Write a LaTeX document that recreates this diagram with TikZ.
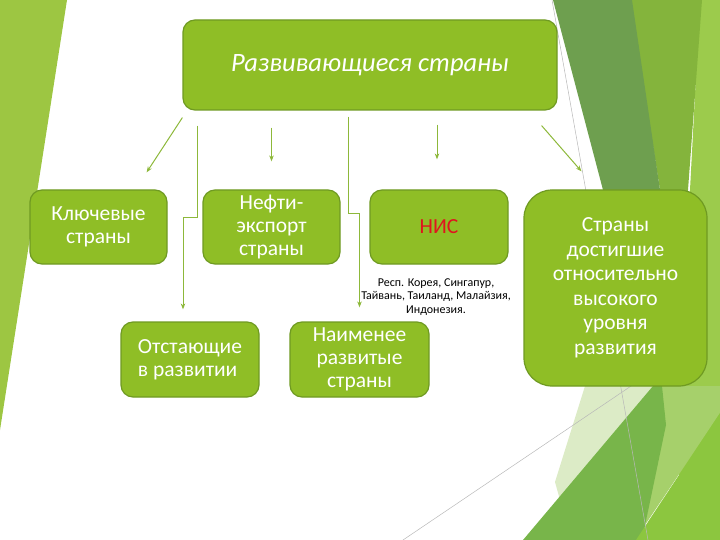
\documentclass[tikz,border=0pt]{standalone}
\usepackage{fontspec}
\setmainfont{Carlito}
\usetikzlibrary{arrows.meta,calc}
\definecolor{boxgreen}{HTML}{8FBE26}
\definecolor{boxline}{HTML}{6F9A22}
\definecolor{arrgreen}{HTML}{8DB83A}
\definecolor{nisred}{HTML}{E0141E}
\definecolor{bgleft}{HTML}{9DC642}
\definecolor{bgfar}{HTML}{9CCB4C}
\definecolor{bgmid}{HTML}{84B43C}
\definecolor{bgdark}{HTML}{6E9F4F}
\definecolor{bgpale}{HTML}{DCEBC6}
\definecolor{bgmedium}{HTML}{78B54A}
\definecolor{bglight}{HTML}{A6D06B}
\definecolor{bgbright}{HTML}{8CC63F}
\def\bgfill#1{\fill[#1]}
\def\bgline{\draw[black!28,line width=0.5pt]}
\tikzset{
  box/.style={draw=boxline,line width=1.2pt,fill=boxgreen,rounded corners=12pt,
    text=white,align=center,inner sep=0pt,font=\fontsize{21.5}{23}\selectfont},
  arr/.style={arrgreen,line width=1pt,-{Stealth[length=6pt,width=4.5pt]}}
}

\begin{document}
\begin{tikzpicture}[x=1pt,y=-1pt]
    \useasboundingbox (0,0) rectangle (720,540);
    % background
    \bgfill{bgleft}   (0,0) -- (67,0) -- (0,430) -- cycle;
    \bgfill{bgfar}    (700,0) -- (720,0) -- (720,540) -- (690,540) -- (665,390) -- (690,190) -- cycle;
    \bgfill{bgmid}    (630,0) -- (702,0) -- (688,190) -- (668,390) -- (655,390) -- (660,190) -- cycle;
    \bgfill{bgdark}   (553,0) -- (632,0) -- (660,190) -- (666,390) -- (663,425) -- (630,390) -- (603,190) -- cycle;
    \bgfill{bgpale}   (585,386) -- (655,386) -- (560,500) -- (555,482) -- cycle;
    \bgfill{bglight}  (662,386) -- (720,386) -- (720,413) -- (645,525) -- (663,425) -- cycle;
    \bgfill{bgmedium} (523,540) -- (653,386) -- (662,386) -- (666,425) -- (642,540) -- cycle;
    \bgfill{bgbright} (636,540) -- (720,413) -- (720,540) -- cycle;
    \bgline (552,0) -- (648,540);
    \bgline (403,540) -- (640,380);
    % boxes
    \node[box,minimum width=374pt,minimum height=90pt,font=\fontsize{26.5}{30}\selectfont\itshape]
        (dev) at (370,65) {Развивающиеся страны};
    \node[box,minimum width=137pt,minimum height=74pt] (key) at (98.5,227) {Ключевые\\страны};
    \node[box,minimum width=137pt,minimum height=74pt] (oil) at (271.5,227) {Нефти-\\экспорт\\страны};
    \node[box,minimum width=138pt,minimum height=74pt,text=nisred] (nic) at (439,227) {НИС};
    \node[box,minimum width=183pt,minimum height=196pt,rounded corners=28pt,font=\fontsize{21.5}{24.5}\selectfont]
        (high) at (615.5,288) {Страны\\достигшие\\относительно\\высокого\\уровня\\развития};
    \node[box,minimum width=138pt,minimum height=75pt,align=left] (lag) at (190,359.5) {Отстающие\\в развитии};
    \node[box,minimum width=139pt,minimum height=75pt] (ldc) at (359.5,359.5) {Наименее\\развитые\\страны};
    \node[align=center,inner sep=0pt,font=\fontsize{12}{13.5}\selectfont] (nicnote) at (436,297)
        {Респ. Корея, Сингапур,\\Тайвань, Таиланд, Малайзия,\\Индонезия.};
    % arrows
    \draw[arr] ($(dev.south west)+(0,7)$) -- ($(key.north east)+(-21,-17)$);
    \draw[arr] ($(dev.south west)+(15,15)$) -- ++(0,92) -| ($(lag.north)+(-7,-12)$);
    \draw[arr] ($(oil.north|-dev.south)+(0,17)$) -- ($(oil.north)+(0,-28)$);
    \draw[arr] ($(dev.south)+(-22,6)$) -- ++(0,97) -| ($(ldc.north)+(0,-14)$);
    \draw[arr] ($(nic.north|-dev.south)+(-2,14)$) -- ($(nic.north)+(-2,-30)$);
    \draw[arr] ($(dev.south east)+(-16,15)$) -- ($(high.north)+(-34,-18)$);
\end{tikzpicture}
\end{document}
